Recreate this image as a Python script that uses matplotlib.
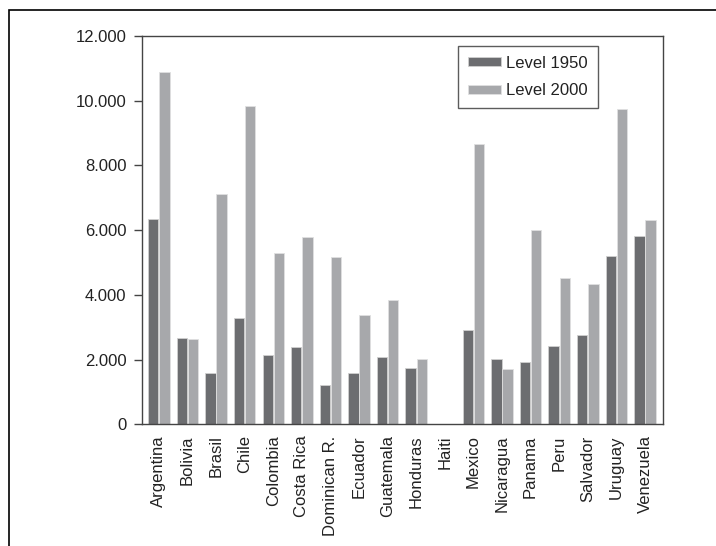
import matplotlib
matplotlib.use("Agg")
import matplotlib.pyplot as plt
import numpy as np
from matplotlib import font_manager
from matplotlib.patches import Rectangle
from matplotlib.ticker import FuncFormatter

countries = ["Argentina", "Bolivia", "Brasil", "Chile", "Colombia", "Costa Rica",
             "Dominican R.", "Ecuador", "Guatemala", "Honduras", "Haiti", "Mexico",
             "Nicaragua", "Panama", "Peru", "Salvador", "Uruguay", "Venezuela"]
level_1950 = [6350, 2670, 1590, 3290, 2150, 2400, 1200, 1570, 2080, 1750, np.nan,
              2910, 2020, 1910, 2410, 2750, 5200, 5830]
level_2000 = [10900, 2650, 7120, 9830, 5300, 5790, 5180, 3380, 3830, 2010, np.nan,
              8670, 1710, 5990, 4510, 4350, 9730, 6320]
y_ticks = [0, 2000, 4000, 6000, 8000, 10000, 12000]

names = {f.name for f in font_manager.fontManager.ttflist}
if "Liberation Sans Narrow" in names:
    plt.rcParams["font.family"] = ["Liberation Sans Narrow", "DejaVu Sans"]
    fs = 14.4
else:
    plt.rcParams["font.family"] = ["Liberation Sans", "DejaVu Sans"]
    fs = 12

dark = "#6c6d70"
light = "#a7a8ab"
axis_col = "#444444"

fig = plt.figure(figsize=(7.16, 5.46), dpi=100)
ax = fig.add_axes([141.7 / 716, 1 - 424.3 / 546, (663 - 141.7) / 716, (424.3 - 36) / 546])

# outer frame (only top and left visible in the source crop)
fig.patches.append(Rectangle((9 / 716, -0.1), 1.2, 1 - 10 / 546 + 0.1,
                             transform=fig.transFigure, fill=False,
                             edgecolor="black", linewidth=1.2))

x = np.arange(len(countries))
w = 0.36
ax.bar(x - 0.195, level_1950, width=w, color=dark, edgecolor="#d0d0d0",
       linewidth=0.6, label="Level 1950")
ax.bar(x + 0.195, level_2000, width=w, color=light, edgecolor="#e0e0e0",
       linewidth=0.6, label="Level 2000")

ax.set_xlim(-0.6, 17.63)
ax.set_ylim(0, 12000)
ax.set_yticks(y_ticks)
ax.yaxis.set_major_formatter(FuncFormatter(lambda v, p: f"{int(v):,}".replace(",", ".")))
ax.set_xticks(x)
ax.set_xticklabels(countries, rotation=90, fontsize=fs, color="#222222")
ax.tick_params(axis="x", length=0, pad=8)
ax.tick_params(axis="y", length=6, width=1, color=axis_col, pad=5,
               labelsize=fs, labelcolor="#222222")
for s in ax.spines.values():
    s.set_color(axis_col)
    s.set_linewidth(1.0)

leg = ax.legend(loc="upper left", bbox_to_anchor=((458 - 141.7) / 521.3, 1 - (45.7 - 36) / 388.3),
                fontsize=fs, frameon=True, fancybox=False, edgecolor="#333333",
                handlelength=2.0, handleheight=0.45, handletextpad=0.3,
                labelspacing=0.75, borderpad=0.6, borderaxespad=0)
leg.get_frame().set_linewidth(1.0)
for t in leg.get_texts():
    t.set_color("#222222")

fig.savefig("out.png", dpi=100)
